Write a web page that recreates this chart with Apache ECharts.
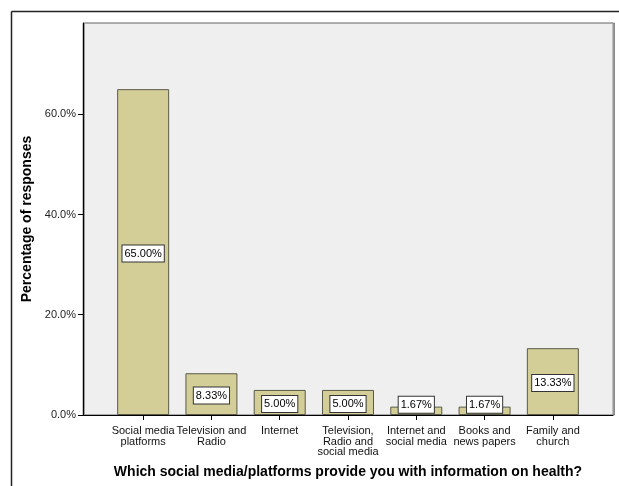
<!DOCTYPE html>
<html>
<head>
<meta charset="utf-8">
<script src="https://cdn.jsdelivr.net/npm/echarts@6/dist/echarts.min.js"></script>
<style>
  html, body { margin: 0; padding: 0; background: #fff; }
  #chart { width: 619px; height: 486px; }
</style>
</head>
<body>
<div id="chart"></div>
<script>
// Information sources on health: share of responses per source
const categories = [
  'Social media\nplatforms',
  'Television and\nRadio',
  'Internet',
  'Television,\nRadio and\nsocial media',
  'Internet and\nsocial media',
  'Books and\nnews papers',
  'Family and\nchurch'
];
const percentages = [65.00, 8.33, 5.00, 5.00, 1.67, 1.67, 13.33];
const yTicks = [0, 20, 40, 60];

const FONT = 'Arial, "Liberation Sans", sans-serif';
const chart = echarts.init(document.getElementById('chart'));

// Plot frame shared by both grids
const plotTop = 23, plotHeight = 392, plotLeft = 83, plotWidth = 530;
const bandInset = 26;
const yMax = 78.2;

const barData = percentages.map(v => ({
  value: v,
  label: v < 4 ? { offset: [0, -6] } : { offset: [0, 1.5] }
}));

chart.setOption({
  animation: false,
  graphic: [
    { type: 'line', shape: { x1: 11.5, y1: 11.5, x2: 619, y2: 11.5 }, style: { stroke: '#222', lineWidth: 1.5 }, z: 10 },
    { type: 'line', shape: { x1: 11.5, y1: 11.5, x2: 11.5, y2: 486 }, style: { stroke: '#222', lineWidth: 1.5 }, z: 10 }
  ],
  grid: [
    {
      left: plotLeft, top: plotTop, width: plotWidth, height: plotHeight,
      show: true, backgroundColor: '#efefef', borderColor: '#8c8c8c', borderWidth: 1,
      shadowColor: 'rgba(0,0,0,0.35)', shadowOffsetX: 1.5, shadowOffsetY: 0, shadowBlur: 0
    },
    {
      left: plotLeft + bandInset, top: plotTop, width: plotWidth - 2 * bandInset, height: plotHeight
    }
  ],
  xAxis: [
    {
      gridIndex: 0, type: 'value', min: 0, max: 1,
      axisLine: { show: true, onZero: false, lineStyle: { color: '#000', width: 1 } },
      axisTick: { show: false }, axisLabel: { show: false }, splitLine: { show: false },
      name: 'Which social media/platforms provide you with information on health?',
      nameLocation: 'middle', nameGap: 50,
      nameTextStyle: { fontFamily: FONT, fontSize: 14, fontWeight: 'bold', color: '#000' }
    },
    {
      gridIndex: 1, type: 'category', data: categories,
      axisLine: { show: false },
      axisTick: { show: true, alignWithLabel: true, length: 5, lineStyle: { color: '#000' } },
      axisLabel: { interval: 0, fontFamily: FONT, fontSize: 11, lineHeight: 10.5, color: '#111', margin: 11 }
    }
  ],
  yAxis: [
    {
      gridIndex: 0, type: 'value', min: 0, max: yMax, interval: 20,
      axisLine: { show: true, lineStyle: { color: '#000', width: 1 } },
      axisTick: { show: true, length: 5, lineStyle: { color: '#000' } },
      splitLine: { show: false },
      axisLabel: {
        showMaxLabel: false, fontFamily: FONT, fontSize: 11, color: '#222', margin: 7,
        formatter: v => yTicks.includes(v) ? v.toFixed(1) + '%' : ''
      },
      name: 'Percentage of responses', nameLocation: 'middle', nameGap: 45,
      nameTextStyle: { fontFamily: FONT, fontSize: 14, fontWeight: 'bold', color: '#000' }
    },
    {
      gridIndex: 1, type: 'value', min: 0, max: yMax, show: false
    }
  ],
  series: [
    {
      type: 'bar', xAxisIndex: 1, yAxisIndex: 1,
      data: barData, barWidth: 52,
      itemStyle: { color: '#d3ce97', borderColor: '#5a5a48', borderWidth: 1 },
      label: {
        show: true, position: 'inside',
        formatter: p => p.value.toFixed(2) + '%',
        fontFamily: FONT, fontSize: 11, color: '#000',
        backgroundColor: '#fff', borderColor: '#333', borderWidth: 1,
        padding: [3, 2, 2, 2]
      }
    }
  ]
});
</script>
</body>
</html>
